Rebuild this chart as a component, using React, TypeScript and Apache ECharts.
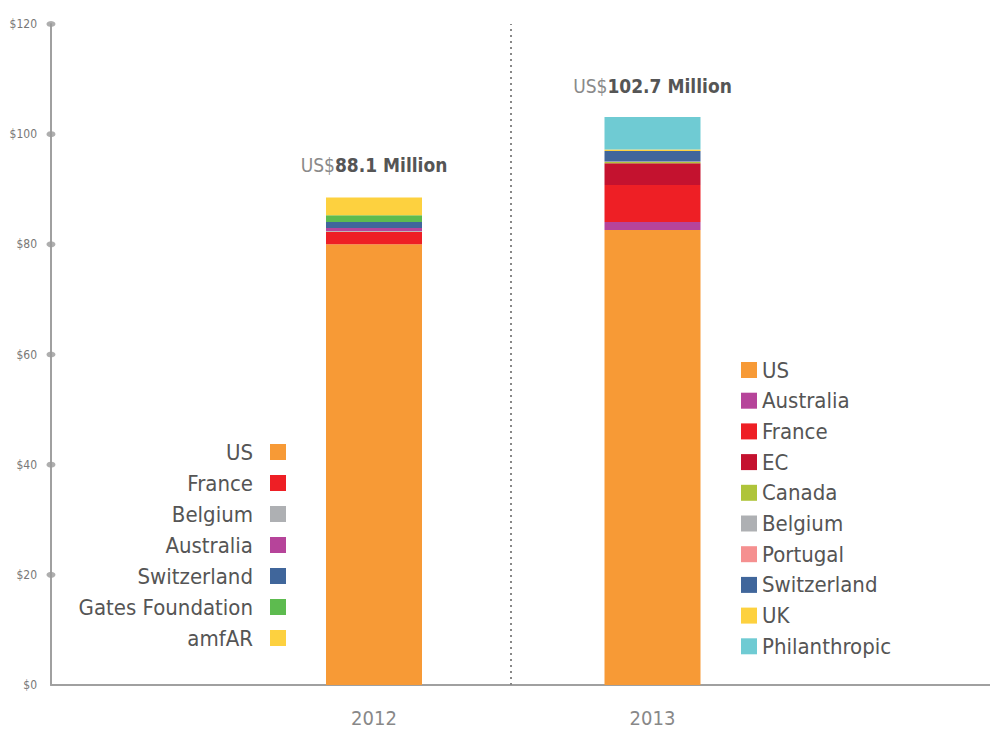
import React, { useEffect, useRef } from "react";
import * as echarts from "echarts";

const years = ["2012", "2013"];
const totalLabels = ["88.1", "102.7"];
const yTicks = [20, 40, 60, 80, 100, 120];

// 2012 stack, bottom to top
const names2012 = ["US", "France", "Belgium", "Australia", "Switzerland", "Gates Foundation", "amfAR"];
const values2012 = [80.0, 2.3, 0.1, 0.55, 1.1, 1.25, 3.2];

// 2013 stack, bottom to top
const names2013 = ["US", "Australia", "France", "EC", "Canada", "Belgium", "Portugal", "Switzerland", "UK", "Philanthropic"];
const values2013 = [82.6, 1.45, 6.7, 3.95, 0.25, 0.05, 0.05, 1.9, 0.25, 5.9];

const colors: Record<string, string> = {
  US: "#f79a36",
  France: "#ee1f25",
  Belgium: "#aeb0b3",
  Australia: "#b6449a",
  Switzerland: "#40669b",
  "Gates Foundation": "#5dbb4f",
  amfAR: "#fdd13f",
  EC: "#c4122f",
  Canada: "#afc43a",
  Portugal: "#f59090",
  UK: "#fdd13f",
  Philanthropic: "#6fcbd3",
};

const FONT = "'Liberation Sans Narrow', 'DejaVu Sans Condensed', 'Roboto Condensed', 'Noto Sans', sans-serif";
const DIVIDER = 0.4877; // fraction of the outer grid width

export default function App() {
  const ref = useRef<HTMLDivElement>(null);
  useEffect(() => {
    if (!ref.current) return;
    const chart = echarts.init(ref.current, null, { renderer: "svg" });

    const labelFor = (yearIdx: number, dist: number) => ({
      show: true,
      position: "top",
      distance: dist,
      formatter: () => `{a|US$}{b|${totalLabels[yearIdx]} Million}`,
      rich: {
        a: { fontFamily: FONT, fontSize: 19, color: "#8a8a8a" },
        b: { fontFamily: FONT, fontSize: 19, fontWeight: "bold", color: "#555555" },
      },
    });

    const series: any[] = [];
    names2012.forEach((n, i) => {
      const isTop = i === names2012.length - 1;
      series.push({
        type: "bar",
        name: n,
        stack: "total",
        xAxisIndex: 1,
        yAxisIndex: 1,
        barWidth: 96,
        itemStyle: { color: colors[n] },
        label: isTop ? labelFor(0, 23) : { show: false },
        data: [values2012[i], "-"],
      });
    });
    names2013.forEach((n, i) => {
      const isTop = i === names2013.length - 1;
      series.push({
        type: "bar",
        name: n,
        stack: "total",
        xAxisIndex: 1,
        yAxisIndex: 1,
        barWidth: 96,
        itemStyle: { color: colors[n] },
        label: isTop ? labelFor(1, 22) : { show: false },
        data: ["-", values2013[i]],
      });
    });
    series.push({
      type: "scatter",
      name: "ticks",
      xAxisIndex: 0,
      yAxisIndex: 0,
      symbol: "circle",
      symbolSize: [9, 6],
      clip: false,
      silent: true,
      itemStyle: { color: "#9a9a9a" },
      data: yTicks.map((v) => [0, v]),
      z: 5,
      markLine: {
        silent: true,
        symbol: "none",
        label: { show: false },
        lineStyle: { color: "#888", type: [2, 4], width: 2 },
        data: [{ xAxis: DIVIDER }],
      },
    });

    const legendText = { fontFamily: FONT, fontSize: 22, color: "#555555" };

    chart.setOption({
      animation: false,
      grid: [
        { left: 51, right: 0, top: 24, bottom: 45 },
        { left: 234.75, right: 198.25, top: 24, bottom: 45 },
      ],
      xAxis: [
        {
          gridIndex: 0,
          type: "value",
          min: 0,
          max: 1,
          splitLine: { show: false },
          axisTick: { show: false },
          axisLabel: { show: false },
          axisLine: { show: true, lineStyle: { color: "#a0a0a0", width: 2 } },
        },
        {
          gridIndex: 1,
          type: "category",
          data: years,
          axisLine: { show: false },
          axisTick: { show: false },
          axisLabel: {
            fontFamily: FONT,
            fontSize: 20,
            color: "#888888",
            margin: 23,
          },
        },
      ],
      yAxis: [
        {
          gridIndex: 0,
          type: "value",
          min: 0,
          max: 120,
          interval: 20,
          splitLine: { show: false },
          axisTick: { show: false },
          axisLine: { show: true, lineStyle: { color: "#a0a0a0", width: 2 } },
          axisLabel: {
            formatter: (v: number) => "$" + v,
            fontFamily: FONT,
            fontSize: 12,
            color: "#777777",
            margin: 14,
          },
        },
        {
          gridIndex: 1,
          type: "value",
          min: 0,
          max: 120,
          interval: 20,
          show: false,
          splitLine: { show: false },
        },
      ],
      legend: [
        {
          data: names2012,
          orient: "vertical",
          align: "right",
          right: 699,
          top: 436,
          itemWidth: 16,
          itemHeight: 16,
          itemGap: 9,
          selectedMode: false,
          icon: "rect",
          textStyle: { ...legendText, padding: [0, 12, 0, 0] },
        },
        {
          data: names2013,
          orient: "vertical",
          align: "left",
          left: 736,
          top: 354,
          itemWidth: 16,
          itemHeight: 16,
          itemGap: 8.7,
          selectedMode: false,
          icon: "rect",
          textStyle: legendText,
        },
      ],
      series,
    });
    return () => chart.dispose();
  }, []);
  return (
    <div
      ref={ref}
      style={{ position: "absolute", left: 0, top: 0, width: 990, height: 730 }}
    />
  );
}
